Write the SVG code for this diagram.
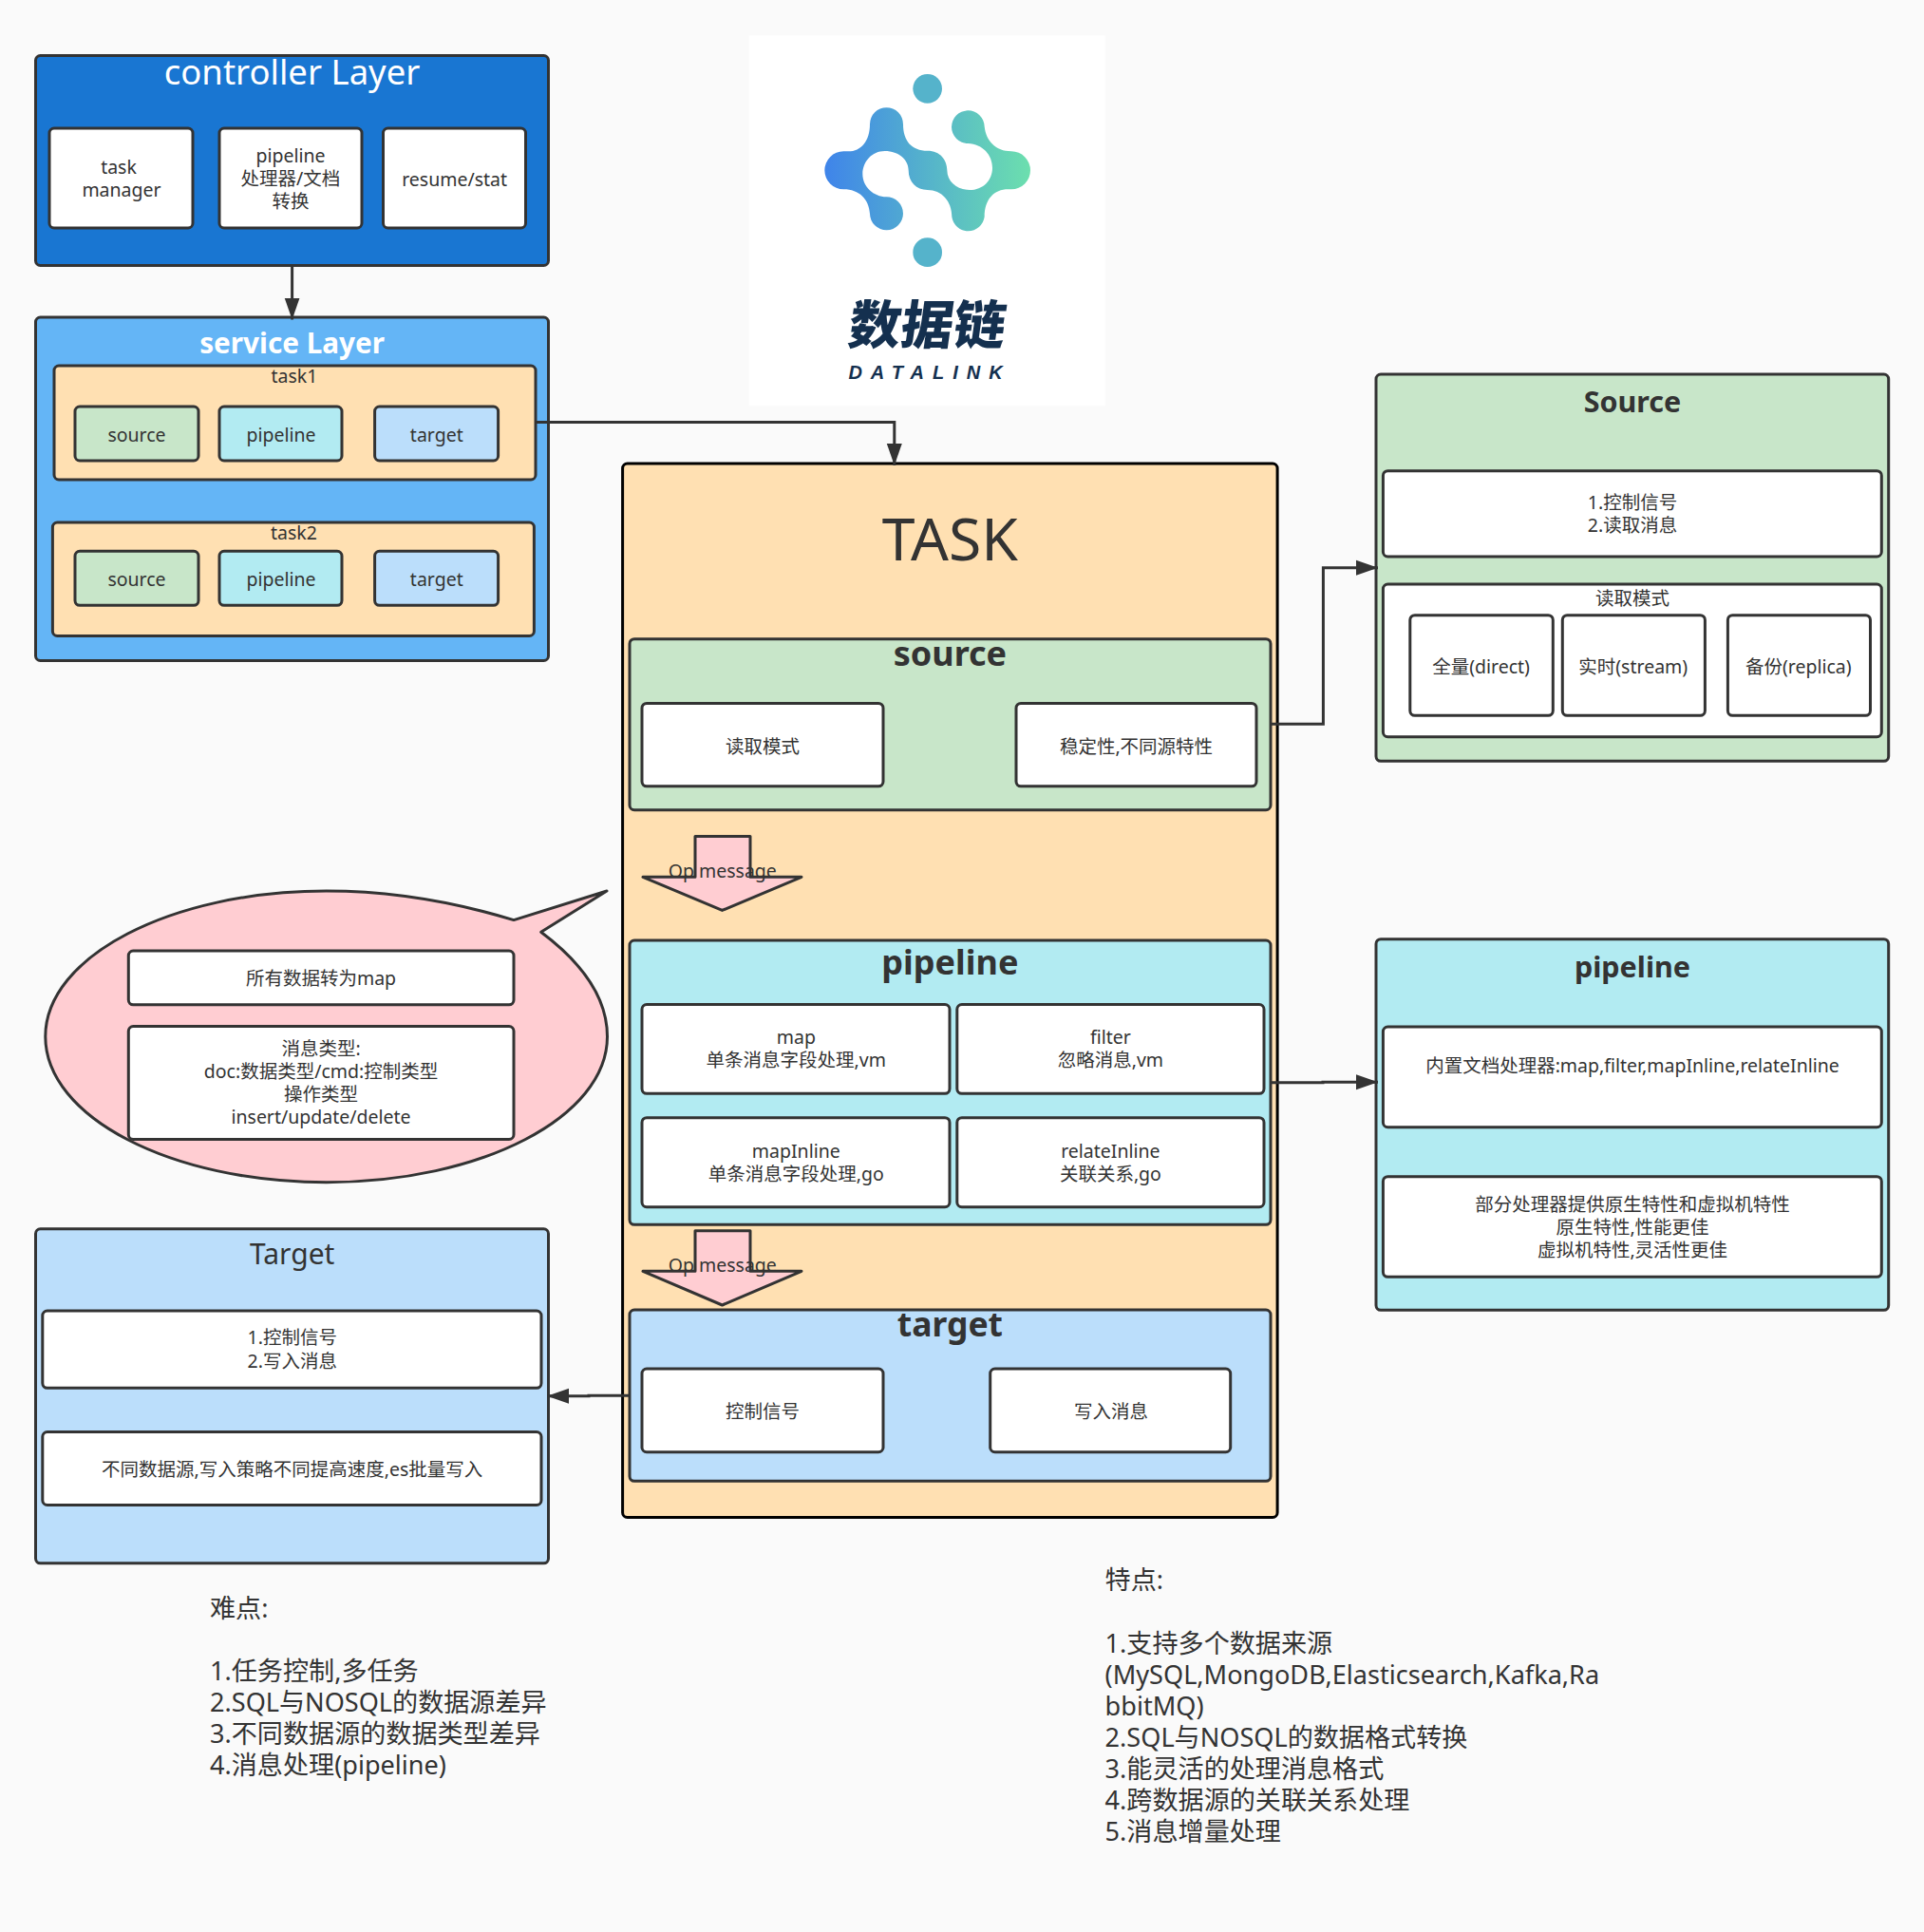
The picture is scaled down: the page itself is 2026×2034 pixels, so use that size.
<svg xmlns="http://www.w3.org/2000/svg" width="2026" height="2034" viewBox="0 0 2026 2034">
<style>
text{font-family:"Noto Sans","Noto Sans CJK SC",sans-serif;fill:#333;font-size:19.500px;text-anchor:middle}
.n{stroke:#333;stroke-width:3;stroke-linejoin:round}
.w{fill:#fff}.g{fill:#c8e6c9}.c{fill:#b2ebf2}.b{fill:#bbdefb}.o{fill:#ffe0b2}.p{fill:#ffcdd2}
.h{font-size:36px;font-weight:700}
.s{font-size:30.500px;font-weight:700}
.l{font-size:27.100px;text-anchor:start}
.k{fill:none;stroke:#333;stroke-width:3}
</style>
<defs>
<marker id="ah" markerUnits="userSpaceOnUse" markerWidth="24" markerHeight="18" refX="23" refY="9" orient="auto"><path d="M0 1L23 9L0 17Z" fill="#333"/></marker>
<linearGradient id="lg" gradientUnits="userSpaceOnUse" x1="325" y1="0" x2="975" y2="0"><stop offset="0" stop-color="#3f84ea"/><stop offset=".5" stop-color="#55b3cb"/><stop offset="1" stop-color="#6cdfae"/></linearGradient>
</defs>
<rect width="2026" height="2034" fill="#fafafa"/>

<g id="logo">
<rect x="788.700" y="37.300" width="375" height="390" fill="#fff"/>
<g transform="translate(760 20) scale(.33333)">
<path fill="url(#lg)" d="M385 418H400C440 418 468 385 468 332A52.500 52.500 0 0 1 573 332C573 385 600 416 650 416C690 416 712 445 712 478C712 515 745 540 783 540C825 540 855 510 855 470C855 430 825 395 778 393A52 52 0 1 1 830 340C835 385 865 418 915 418A60 60 0 0 1 915 538H905C860 538 830 570 830 625A52 52 0 0 1 727 625C727 575 695 540 650 540C615 540 590 515 590 478C590 445 560 417 515 417C475 417 445 450 445 490C445 530 480 562 520 562A52.500 52.500 0 1 1 468 615C465 570 435 538 385 538A60 60 0 0 1 385 418Z"/>
<circle cx="650" cy="220" r="46" fill="#55b3cb"/>
<circle cx="650" cy="737" r="46" fill="#55b3cb"/>
</g>
<text transform="translate(974 362) skewX(-8)" style="font-size:55px;font-weight:900;fill:#14304f;font-family:'Noto Sans CJK SC',sans-serif">数据链</text>
<text x="979" y="399" style="font-size:20px;font-weight:700;font-style:italic;letter-spacing:9px;fill:#14304f;font-family:'Liberation Sans',sans-serif">DATALINK</text>
</g>

<g id="controller">
<rect class="n" x="37.500" y="58.500" width="540" height="221" rx="5" fill="#1976d2"/>
<text x="307.600" y="88.500" style="font-size:36.500px;fill:#fff">controller Layer</text>
<rect class="n w" x="52" y="135" width="151" height="105" rx="5"/>
<text x="125" y="182.500">task</text><text x="128" y="206.500">manager</text>
<rect class="n w" x="231" y="135" width="150" height="105" rx="5"/>
<text x="306" y="171">pipeline</text><text x="306" y="195">处理器/文档</text><text x="306" y="219">转换</text>
<rect class="n w" x="403.500" y="135" width="150" height="105" rx="5"/>
<text x="478.600" y="195.500">resume/stat</text>
</g>

<g id="service">
<rect class="n" x="37.500" y="334" width="540" height="361.500" rx="5" fill="#64b5f6"/>
<text x="307.600" y="372" class="h" style="font-size:29.700px;fill:#fff">service Layer</text>
<g id="task1">
<rect class="n o" x="57" y="385" width="507" height="120" rx="5"/>
<text x="310" y="403">task1</text>
<rect class="n g" x="79" y="428" width="130" height="57" rx="5"/><text x="144" y="465">source</text>
<rect class="n c" x="231" y="428" width="129" height="57" rx="5"/><text x="296" y="465">pipeline</text>
<rect class="n b" x="394.600" y="428" width="130" height="57" rx="5"/><text x="459.800" y="465">target</text>
</g>
<g id="task2">
<rect class="n o" x="55.400" y="550" width="507" height="119.500" rx="5"/>
<text x="309.400" y="568">task2</text>
<rect class="n g" x="79" y="580.300" width="130" height="57" rx="5"/><text x="144" y="617">source</text>
<rect class="n c" x="231" y="580.300" width="129" height="57" rx="5"/><text x="296" y="617">pipeline</text>
<rect class="n b" x="394.600" y="580.300" width="130" height="57" rx="5"/><text x="459.800" y="617">target</text>
</g>
</g>

<g id="task">
<rect x="655.600" y="488" width="689.500" height="1109.500" rx="5" class="o" stroke="#000" stroke-width="3"/>
<text x="1000.400" y="590" style="font-size:62.500px">TASK</text>
<g id="task-source">
<rect class="n g" x="663" y="672.700" width="675" height="180" rx="5"/>
<text x="1000.400" y="700.500" class="h">source</text>
<rect class="n w" x="676" y="740.400" width="254" height="87.400" rx="5"/><text x="803" y="793">读取模式</text>
<rect class="n w" x="1070" y="740.400" width="253" height="87.400" rx="5"/><text x="1196.500" y="793">稳定性,不同源特性</text>
</g>
<g id="op1">
<path class="n p" d="M732 923.300V880.400H790V923.300H844L760.500 958.400L677 923.300Z"/>
<text x="760.800" y="924">Op message</text>
</g>
<g id="task-pipeline">
<rect class="n c" x="663" y="990" width="675" height="299.300" rx="5"/>
<text x="1000.400" y="1026" class="h">pipeline</text>
<rect class="n w" x="676" y="1057.600" width="324" height="93.700" rx="5"/>
<text x="838.300" y="1099">map</text><text x="838.300" y="1123">单条消息字段处理,vm</text>
<rect class="n w" x="1007.800" y="1057.600" width="323.200" height="93.700" rx="5"/>
<text x="1169.400" y="1099">filter</text><text x="1169.400" y="1123">忽略消息,vm</text>
<rect class="n w" x="676" y="1176.700" width="324" height="94" rx="5"/>
<text x="838.300" y="1219">mapInline</text><text x="838.300" y="1243">单条消息字段处理,go</text>
<rect class="n w" x="1007.800" y="1176.700" width="323.200" height="94" rx="5"/>
<text x="1169.400" y="1219">relateInline</text><text x="1169.400" y="1243">关联关系,go</text>
</g>
<g id="op2">
<path class="n p" d="M732 1338.300V1295.700H790V1338.300H844L760.500 1374L677 1338.300Z"/>
<text x="760.800" y="1339">Op message</text>
</g>
<g id="task-target">
<rect class="n b" x="663" y="1379" width="675" height="180.300" rx="5"/>
<text x="1000.400" y="1406.500" class="h" style="font-size:35.500px">target</text>
<rect class="n w" x="676" y="1441" width="254" height="87.700" rx="5"/><text x="803" y="1493">控制信号</text>
<rect class="n w" x="1042.700" y="1441" width="253" height="87.700" rx="5"/><text x="1170" y="1493">写入消息</text>
</g>
</g>

<g id="source-panel">
<rect class="n g" x="1449" y="394" width="539.700" height="407.300" rx="5"/>
<text x="1719" y="434" class="s">Source</text>
<rect class="n w" x="1456.400" y="495.700" width="524.900" height="90.300" rx="5"/>
<text x="1719" y="536">1.控制信号</text><text x="1719" y="560">2.读取消息</text>
<rect class="n w" x="1456.400" y="615" width="524.900" height="160.700" rx="5"/>
<text x="1719" y="637">读取模式</text>
<rect class="n w" x="1484.800" y="647.700" width="150.500" height="105.600" rx="5"/><text x="1559.600" y="709">全量(direct)</text>
<rect class="n w" x="1645.300" y="647.700" width="150.100" height="105.600" rx="5"/><text x="1719.700" y="709">实时(stream)</text>
<rect class="n w" x="1819.400" y="647.700" width="150.100" height="105.600" rx="5"/><text x="1893.800" y="709">备份(replica)</text>
</g>

<g id="pipeline-panel">
<rect class="n c" x="1449" y="988.700" width="539.700" height="390.600" rx="5"/>
<text x="1719" y="1028.500" class="s">pipeline</text>
<rect class="n w" x="1456.400" y="1081" width="524.900" height="105.700" rx="5"/>
<text x="1719" y="1129">内置文档处理器:map,filter,mapInline,relateInline</text>
<rect class="n w" x="1456.400" y="1238.700" width="524.900" height="105.600" rx="5"/>
<text x="1719" y="1275">部分处理器提供原生特性和虚拟机特性</text><text x="1719" y="1299">原生特性,性能更佳</text><text x="1719" y="1323">虚拟机特性,灵活性更佳</text>
</g>

<g id="callout">
<path class="p" stroke="#333" stroke-width="3" stroke-linejoin="round" d="M541 968.600C480 950 415 938 343.700 938C180 938 47.800 1007 47.800 1091.300C47.800 1176 180 1244.700 343.700 1244.700C507 1244.700 639.500 1176 639.500 1091.300C639.500 1050 612 1013 569.700 981.300L639 938Z"/>
<rect class="n w" x="135.300" y="1001" width="405.700" height="56.800" rx="5"/>
<text x="338" y="1037">所有数据转为map</text>
<rect class="n w" x="135.300" y="1080.500" width="405.700" height="118.900" rx="5"/>
<text x="338" y="1111">消息类型:</text><text x="338" y="1135">doc:数据类型/cmd:控制类型</text><text x="338" y="1159">操作类型</text><text x="338" y="1183">insert/update/delete</text>
</g>

<g id="target-panel">
<rect class="n b" x="37.500" y="1293.800" width="540" height="352" rx="5"/>
<text x="307.700" y="1330.600" style="font-size:30px">Target</text>
<rect class="n w" x="44.800" y="1380" width="525.200" height="81.300" rx="5"/>
<text x="307.700" y="1415">1.控制信号</text><text x="307.700" y="1439.500">2.写入消息</text>
<rect class="n w" x="44.800" y="1507.500" width="525.200" height="77" rx="5"/>
<text x="307.700" y="1553.600">不同数据源,写入策略不同提高速度,es批量写入</text>
</g>

<g id="difficulties">
<text class="l" x="221" y="1703">难点:</text>
<text class="l" x="221" y="1768.500">1.任务控制,多任务</text>
<text class="l" x="221" y="1801.500">2.SQL与NOSQL的数据源差异</text>
<text class="l" x="221" y="1834.500">3.不同数据源的数据类型差异</text>
<text class="l" x="221" y="1867.500">4.消息处理(pipeline)</text>
</g>
<g id="features">
<text class="l" x="1163.600" y="1673">特点:</text>
<text class="l" x="1163.600" y="1739.500">1.支持多个数据来源</text>
<text class="l" x="1163.600" y="1772.500">(MySQL,MongoDB,Elasticsearch,Kafka,Ra</text>
<text class="l" x="1163.600" y="1805.500">bbitMQ)</text>
<text class="l" x="1163.600" y="1838.500">2.SQL与NOSQL的数据格式转换</text>
<text class="l" x="1163.600" y="1871.500">3.能灵活的处理消息格式</text>
<text class="l" x="1163.600" y="1904.500">4.跨数据源的关联关系处理</text>
<text class="l" x="1163.600" y="1937.500">5.消息增量处理</text>
</g>

<g id="connectors">
<path class="k" marker-end="url(#ah)" d="M307.600 280V336.500"/>
<path class="k" marker-end="url(#ah)" d="M564 444.400H941.800V490"/>
<path class="k" marker-end="url(#ah)" d="M1338 762.300H1393.400V597.700H1451"/>
<path class="k" marker-end="url(#ah)" d="M1338 1139.700H1393V1139.300H1451"/>
<path class="k" marker-end="url(#ah)" d="M663 1469.300H620V1469.800H576"/>
</g>
</svg>
